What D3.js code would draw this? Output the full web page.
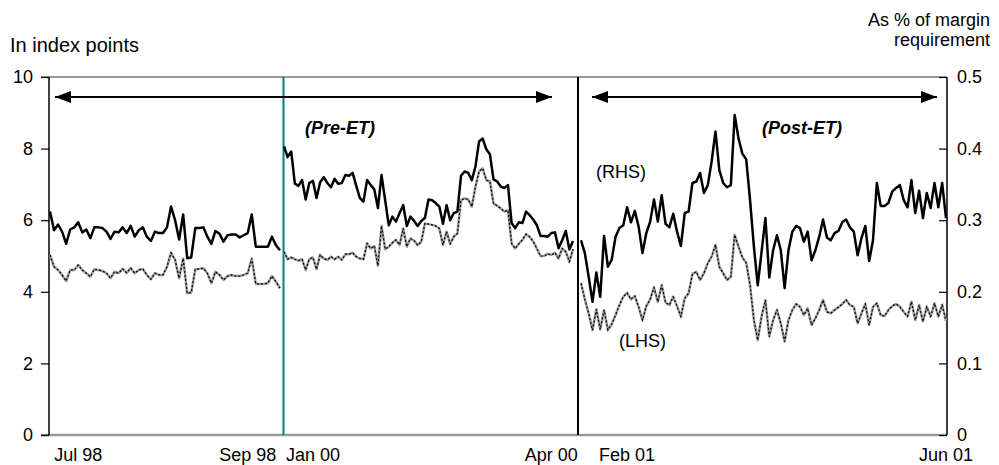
<!DOCTYPE html>
<html lang="en">
<head>
<meta charset="UTF-8">
<title>Pre-ET / Post-ET margin chart</title>
<script src="https://d3js.org/d3.v7.min.js"></script>
<style>
  html, body { margin: 0; padding: 0; background: white; }
  body { font-family: 'Liberation Sans', Arial, sans-serif; }
  #chart svg { display: block; }
  .axis text { font-family: 'Liberation Sans', Arial, sans-serif; font-size: 18px; fill: black; }
  .axis path { display: none; }
  .axis line { stroke: black; stroke-width: 1.2px; }
  .lbl { font-family: 'Liberation Sans', Arial, sans-serif; font-size: 18px; fill: black; }
  .tag { font-family: 'Liberation Sans', Arial, sans-serif; font-size: 18px; font-weight: bold; font-style: italic; fill: black; }
</style>
</head>
<body>
<div id="chart"></div>
<script>

// ---- data ----
// RHS series: as % of margin requirement, LHS series: index points

// Jul 98 - Sep 98
var rhsSeg1 = [0.312,0.286,0.294,0.284,0.267,0.287,0.290,0.297,0.283,0.287,
  0.275,0.290,0.290,0.289,0.284,0.274,0.284,0.283,0.290,0.282,
  0.292,0.277,0.286,0.290,0.277,0.271,0.284,0.282,0.282,0.290,
  0.319,0.300,0.273,0.308,0.247,0.248,0.289,0.289,0.290,0.277,
  0.267,0.285,0.281,0.270,0.279,0.280,0.280,0.276,0.279,0.282,
  0.308,0.263,0.263,0.263,0.263,0.277,0.265,0.258];
var lhsSeg1 = [5.03,4.70,4.61,4.47,4.30,4.61,4.61,4.75,4.61,4.52,
  4.42,4.63,4.61,4.58,4.52,4.38,4.56,4.52,4.64,4.53,
  4.66,4.52,4.61,4.64,4.47,4.35,4.52,4.47,4.47,4.70,
  5.09,4.89,4.38,4.93,3.96,3.98,4.63,4.64,4.66,4.52,
  4.24,4.56,4.47,4.33,4.44,4.47,4.44,4.44,4.47,4.52,
  4.93,4.22,4.22,4.22,4.24,4.44,4.28,4.10];

// Jan 00 - Apr 00
var rhsSeg2 = [0.403,0.388,0.396,0.351,0.348,0.356,0.329,0.352,0.355,0.331,
  0.353,0.360,0.352,0.346,0.358,0.351,0.352,0.363,0.362,0.366,
  0.348,0.331,0.326,0.356,0.349,0.343,0.317,0.363,0.328,0.293,
  0.305,0.298,0.310,0.321,0.292,0.305,0.299,0.292,0.299,0.303,
  0.329,0.328,0.324,0.319,0.295,0.321,0.300,0.310,0.312,0.362,
  0.368,0.366,0.356,0.375,0.410,0.414,0.399,0.392,0.357,0.354,
  0.347,0.345,0.349,0.296,0.289,0.297,0.296,0.312,0.307,0.301,
  0.293,0.278,0.278,0.277,0.282,0.283,0.261,0.272,0.285,0.259,
  0.271];
var lhsSeg2 = [5.12,4.91,4.96,4.91,4.87,4.91,4.61,4.91,4.96,4.63,
  5.03,4.93,4.89,4.98,4.91,4.98,4.89,5.05,5.05,5.09,
  4.98,4.93,4.91,5.35,5.21,5.28,4.73,5.84,5.19,5.26,
  5.37,5.45,5.31,5.77,5.26,5.49,5.43,5.30,5.40,5.91,
  5.89,5.87,5.84,5.77,5.31,5.68,5.34,5.54,5.63,6.56,
  6.61,6.58,6.38,6.94,7.36,7.45,7.12,7.08,6.47,6.40,
  6.33,6.24,6.28,5.35,5.21,5.34,5.45,5.61,5.54,5.40,
  5.21,5.00,5.00,5.06,5.03,5.09,4.93,5.21,5.12,4.84,
  5.19];

// Feb 01 - Jun 01
var rhsSeg3 = [0.272,0.254,0.221,0.186,0.227,0.193,0.278,0.235,0.245,0.277,
  0.289,0.293,0.318,0.297,0.313,0.291,0.254,0.282,0.298,0.329,
  0.298,0.335,0.295,0.290,0.309,0.284,0.264,0.310,0.312,0.352,
  0.354,0.366,0.338,0.349,0.382,0.424,0.370,0.352,0.346,0.349,
  0.447,0.414,0.393,0.385,0.328,0.263,0.209,0.256,0.303,0.220,
  0.258,0.279,0.258,0.205,0.258,0.284,0.292,0.289,0.270,0.284,
  0.244,0.258,0.277,0.301,0.276,0.272,0.282,0.285,0.297,0.301,
  0.290,0.284,0.251,0.275,0.292,0.243,0.272,0.352,0.320,0.320,
  0.324,0.340,0.345,0.349,0.328,0.318,0.356,0.310,0.341,0.303,
  0.338,0.317,0.352,0.318,0.352,0.303];
var lhsSeg3 = [4.24,3.79,3.40,2.93,3.51,2.95,3.49,2.93,3.10,3.35,
  3.63,3.86,3.97,3.79,3.88,3.58,3.21,3.60,3.79,4.12,
  3.72,4.19,3.70,3.63,3.86,3.60,3.31,3.82,3.96,4.50,
  4.56,4.33,4.52,4.80,4.98,5.31,4.70,4.52,4.33,4.42,
  5.59,5.26,4.96,4.81,4.19,3.21,2.65,3.31,3.77,2.75,
  3.21,3.49,3.12,2.61,3.21,3.49,3.66,3.58,3.35,3.54,
  3.07,3.26,3.49,3.77,3.44,3.40,3.49,3.57,3.66,3.77,
  3.63,3.58,3.12,3.40,3.66,3.07,3.58,3.68,3.35,3.32,
  3.49,3.60,3.66,3.58,3.44,3.31,3.72,3.21,3.63,3.17,
  3.58,3.31,3.68,3.31,3.63,3.19];

var leftTicks = [0, 2, 4, 6, 8, 10];
var rightTicks = [0, 0.1, 0.2, 0.3, 0.4, 0.5];
var xTickLabels = ["Jul 98", "Sep 98", "Jan 00", "Apr 00", "Feb 01", "Jun 01"];

// ---- size ----
var totalWidth = 999, totalHeight = 465;
var plot = {left: 49, right: 947, top: 77, bottom: 435};

var svg = d3.select("#chart").append("svg")
  .attr("width", totalWidth)
  .attr("height", totalHeight);

// ---- scales ----
var yL = d3.scaleLinear().domain([0, 10]).range([plot.bottom, plot.top]);
var yR = d3.scaleLinear().domain([0, 0.5]).range([plot.bottom, plot.top]);

// each period gets its own stretch of the x axis
var segments = [
  {rhs: rhsSeg1, lhs: lhsSeg1, range: [50, 280]},
  {rhs: rhsSeg2, lhs: lhsSeg2, range: [284, 573]},
  {rhs: rhsSeg3, lhs: lhsSeg3, range: [581, 946]}
];
segments.forEach(function(s) {
  s.x = d3.scaleLinear().domain([0, s.rhs.length - 1]).range(s.range);
});

// ---- frame ----
svg.append("line")
  .attr("x1", plot.left - 8).attr("x2", plot.right)
  .attr("y1", plot.top).attr("y2", plot.top)
  .attr("stroke", "#999").attr("stroke-width", 2);
svg.append("line")
  .attr("x1", plot.left - 8).attr("x2", plot.right)
  .attr("y1", plot.bottom).attr("y2", plot.bottom)
  .attr("stroke", "#999").attr("stroke-width", 2.5);

// axes (both sets of ticks point left)
svg.append("g")
  .attr("class", "axis")
  .attr("transform", "translate(" + plot.left + ",0)")
  .call(d3.axisLeft(yL).tickValues(leftTicks).tickSize(8).tickPadding(8).tickFormat(d3.format("d")));

svg.append("g")
  .attr("class", "axis")
  .attr("transform", "translate(" + plot.right + ",0)")
  .call(d3.axisRight(yR).tickValues(rightTicks).tickSize(-8).tickPadding(10)
    .tickFormat(function(d) { return d === 0 ? "0" : d3.format(".1f")(d); }));

svg.append("line")
  .attr("x1", plot.left).attr("x2", plot.left)
  .attr("y1", plot.top).attr("y2", plot.bottom)
  .attr("stroke", "black").attr("stroke-width", 1.5);
svg.append("line")
  .attr("x1", plot.right).attr("x2", plot.right)
  .attr("y1", plot.top).attr("y2", plot.bottom)
  .attr("stroke", "black").attr("stroke-width", 1.5);

// period dividers
svg.append("line")
  .attr("x1", 283.5).attr("x2", 283.5)
  .attr("y1", plot.top).attr("y2", plot.bottom)
  .attr("stroke", "#008080").attr("stroke-width", 2);
svg.append("line")
  .attr("x1", 578).attr("x2", 578)
  .attr("y1", plot.top).attr("y2", plot.bottom)
  .attr("stroke", "black").attr("stroke-width", 2);

// ---- lines ----
segments.forEach(function(s) {
  var lhsLine = d3.line().x(function(d, i) { return s.x(i); }).y(function(d) { return yL(d); });
  var rhsLine = d3.line().x(function(d, i) { return s.x(i); }).y(function(d) { return yR(d); });

  svg.append("path").datum(s.lhs)
    .attr("d", lhsLine)
    .attr("fill", "none").attr("stroke", "#9a9a9a").attr("stroke-width", 2.5)
    .attr("stroke-linejoin", "round");
  svg.append("path").datum(s.lhs)
    .attr("d", lhsLine)
    .attr("fill", "none").attr("stroke", "black").attr("stroke-width", 1.2)
    .attr("stroke-dasharray", "2,2");
  svg.append("path").datum(s.rhs)
    .attr("d", rhsLine)
    .attr("fill", "none").attr("stroke", "black").attr("stroke-width", 2.5)
    .attr("stroke-linejoin", "round");
});

// ---- arrows ----
var defs = svg.append("defs");
defs.append("marker")
  .attr("id", "head")
  .attr("viewBox", "0 0 16 12")
  .attr("refX", 16).attr("refY", 6)
  .attr("markerUnits", "userSpaceOnUse")
  .attr("markerWidth", 16).attr("markerHeight", 12)
  .attr("orient", "auto-start-reverse")
  .append("path").attr("d", "M0,0L16,6L0,12Z").attr("fill", "black");

[[55, 552], [592, 937]].forEach(function(a) {
  svg.append("line")
    .attr("x1", a[0]).attr("x2", a[1])
    .attr("y1", 97).attr("y2", 97)
    .attr("stroke", "black").attr("stroke-width", 2)
    .attr("marker-start", "url(#head)")
    .attr("marker-end", "url(#head)");
});

// ---- x labels ----
var xLabelPos = [
  {seg: 0, i: 7}, {seg: 0, i: 49}, {seg: 1, i: 8},
  {seg: 1, i: 74}, {seg: 2, i: 12}, {seg: 2, i: 95}
];
svg.append("g").selectAll("text")
  .data(xTickLabels)
  .join("text")
  .attr("class", "lbl")
  .attr("x", function(d, k) { var p = xLabelPos[k]; return segments[p.seg].x(p.i); })
  .attr("y", 461)
  .attr("text-anchor", "middle")
  .text(function(d) { return d; });

// ---- titles and tags ----
svg.append("text").attr("class", "lbl").attr("x", 10).attr("y", 52)
  .style("font-size", "20px").text("In index points");
svg.append("text").attr("class", "lbl").attr("x", 990).attr("y", 26).attr("text-anchor", "end").text("As % of margin");
svg.append("text").attr("class", "lbl").attr("x", 990).attr("y", 46).attr("text-anchor", "end").text("requirement");

svg.append("text").attr("class", "tag").attr("x", 305).attr("y", 134).text("(Pre-ET)");
svg.append("text").attr("class", "tag").attr("x", 762).attr("y", 134).text("(Post-ET)");
svg.append("text").attr("class", "lbl").attr("x", 596).attr("y", 178).text("(RHS)");
svg.append("text").attr("class", "lbl").attr("x", 619).attr("y", 347).text("(LHS)");

</script>
</body>
</html>
